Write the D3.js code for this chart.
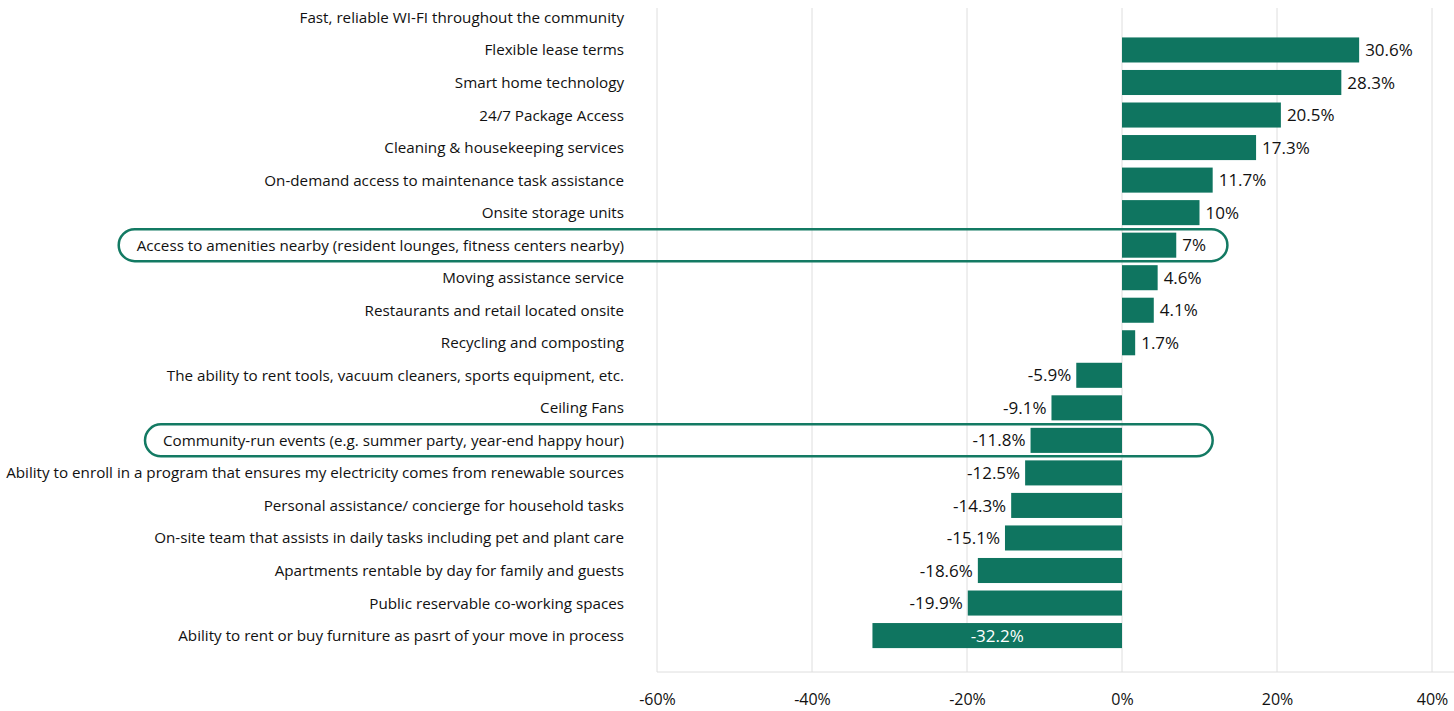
<!DOCTYPE html>
<html>
<head>
<meta charset="utf-8">
<script src="https://cdn.jsdelivr.net/npm/d3@7"></script>
<style>
  body { margin: 0; background: #fff; }
  text { font-family: "Open Sans", "Noto Sans", sans-serif; }
</style>
</head>
<body>
<div class="bg"></div>
<script>
// amenities, top to bottom
const amenities = [
  "Fast, reliable WI-FI throughout the community",
  "Flexible lease terms",
  "Smart home technology",
  "24/7 Package Access",
  "Cleaning & housekeeping services",
  "On-demand access to maintenance task assistance",
  "Onsite storage units",
  "Access to amenities nearby (resident lounges, fitness centers nearby)",
  "Moving assistance service",
  "Restaurants and retail located onsite",
  "Recycling and composting",
  "The ability to rent tools, vacuum cleaners, sports equipment, etc.",
  "Ceiling Fans",
  "Community-run events (e.g. summer party, year-end happy hour)",
  "Ability to enroll in a program that ensures my electricity comes from renewable sources",
  "Personal assistance/ concierge for household tasks",
  "On-site team that assists in daily tasks including pet and plant care",
  "Apartments rentable by day for family and guests",
  "Public reservable co-working spaces",
  "Ability to rent or buy furniture as pasrt of your move in process"
];
const values = [null, 30.6, 28.3, 20.5, 17.3, 11.7, 10, 7, 4.6, 4.1, 1.7,
  -5.9, -9.1, -11.8, -12.5, -14.3, -15.1, -18.6, -19.9, -32.2];
const valueLabels = ["", "30.6%", "28.3%", "20.5%", "17.3%", "11.7%", "10%", "7%", "4.6%", "4.1%", "1.7%",
  "-5.9%", "-9.1%", "-11.8%", "-12.5%", "-14.3%", "-15.1%", "-18.6%", "-19.9%", "-32.2%"];
const ticks = [-60, -40, -20, 0, 20, 40];
// rows circled in the original, with the right end of the outline (axis units)
const highlighted = [amenities[7], amenities[13]];
const highlightEnds = [13.6, 11.7];

const data = amenities.map((a, i) => ({ name: a, value: values[i], label: valueLabels[i] }));

const width = 1454, height = 711;
const plotLeft = 657, plotRight = 1432;
const plotTop = 8, plotBottom = 672;
const green = "#0f7560";

const svg = d3.select(".bg").append("svg")
  .attr("width", width)
  .attr("height", height);

const x = d3.scaleLinear().domain([-60, 40]).range([plotLeft, plotRight]);
const y = d3.scaleBand().domain(amenities).range([1, 652]).paddingInner(0.23).paddingOuter(0.12);

// gridlines
svg.append("g").selectAll("line")
  .data(ticks)
  .enter().append("line")
  .attr("x1", d => x(d)).attr("x2", d => x(d))
  .attr("y1", plotTop).attr("y2", plotBottom)
  .attr("stroke", "#dedede").attr("stroke-width", 1);

svg.append("line")
  .attr("x1", plotLeft).attr("x2", width)
  .attr("y1", plotBottom).attr("y2", plotBottom)
  .attr("stroke", "#dedede");

// x axis labels
const xAxis = d3.axisBottom(x).tickValues(ticks).tickFormat(d => d + "%").tickSize(0).tickPadding(0);
const axisG = svg.append("g")
  .attr("transform", "translate(0,694)")
  .call(xAxis);
axisG.select(".domain").remove();
axisG.selectAll("text")
  .attr("font-size", 16)
  .attr("fill", "#111")
  .attr("font-family", "Open Sans");

// bars
const rows = data.filter(d => d.value !== null);
svg.append("g").selectAll("rect")
  .data(rows)
  .enter().append("rect")
  .attr("x", d => x(Math.min(0, d.value)))
  .attr("width", d => Math.abs(x(d.value) - x(0)))
  .attr("y", d => y(d.name))
  .attr("height", y.bandwidth())
  .attr("fill", green);

// value labels
svg.append("g").selectAll("text")
  .data(rows)
  .enter().append("text")
  .attr("x", d => {
    if (d.value < -30) return (x(d.value) + x(0)) / 2;
    return d.value >= 0 ? x(d.value) + 6 : x(d.value) - 5;
  })
  .attr("y", d => y(d.name) + y.bandwidth() / 2)
  .attr("dy", "0.36em")
  .attr("text-anchor", d => d.value < -30 ? "middle" : (d.value >= 0 ? "start" : "end"))
  .attr("font-size", 17)
  .attr("fill", d => d.value < -30 ? "#fff" : "#111")
  .text(d => d.label);

// category labels
const labels = svg.append("g").selectAll("text")
  .data(data)
  .enter().append("text")
  .attr("x", 624)
  .attr("y", d => y(d.name) + y.bandwidth() / 2)
  .attr("dy", "0.36em")
  .attr("text-anchor", "end")
  .attr("font-size", 15.2)
  .attr("fill", "#111")
  .text(d => d.name);

// outlines around highlighted rows
highlighted.forEach((name, i) => {
  const node = labels.filter(d => d.name === name).node();
  const bb = node.getBBox();
  const cy = y(name) + y.bandwidth() / 2;
  const left = bb.x - 18;
  svg.append("rect")
    .attr("x", left)
    .attr("y", cy - 16)
    .attr("width", x(highlightEnds[i]) - left)
    .attr("height", 32)
    .attr("rx", 16)
    .attr("fill", "none")
    .attr("stroke", "#137a63")
    .attr("stroke-width", 2.5);
});
</script>
</body>
</html>
